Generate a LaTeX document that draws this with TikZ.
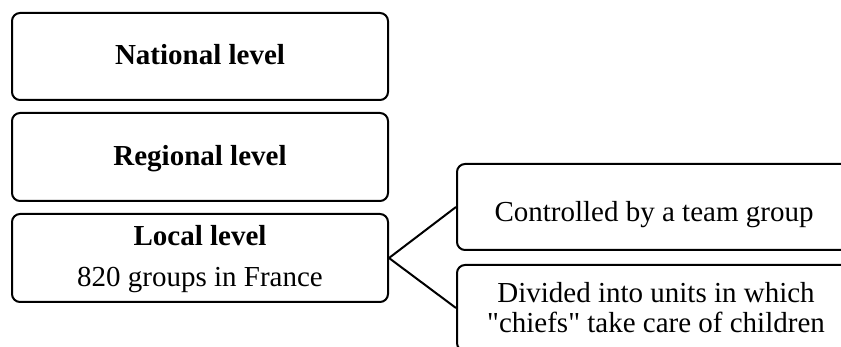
\documentclass[tikz,border=0pt]{standalone}
\usepackage{fontspec}
\setmainfont{Liberation Serif}[Ligatures=TeXOff]
\usetikzlibrary{calc}
\begin{document}
\begin{tikzpicture}[x=1pt,y=-1pt,
  box/.style={draw=black,line width=2pt,rounded corners=8pt,fill=white,inner sep=0pt},
  lbl/.style={anchor=base,inner sep=0pt,font=\fontsize{29}{33.5}\selectfont},
  blbl/.style={lbl,font=\fontsize{29}{33.5}\selectfont\bfseries},
  link/.style={draw=black,line width=2pt}]
\useasboundingbox (0,0) rectangle (841,347);
\begin{scope}
\clip (0,0) rectangle (841,347);
\node[box,minimum width=376pt,minimum height=87pt] (nat) at (200,56.5) {};
\node[box,minimum width=376pt,minimum height=88pt] (reg) at (200,157) {};
\node[box,minimum width=376pt,minimum height=88pt] (loc) at (200,258) {};
\node[box,minimum width=394pt,minimum height=86pt] (c1) at (654,207) {};
\node[box,minimum width=394pt,minimum height=86pt] (c2) at (654,308) {};
\node[blbl] (natt) at ($(nat.center)+(0,8.5)$) {National level};
\node[blbl] (regt) at ($(reg.center)+(0,9)$) {Regional level};
\node[blbl] (loct) at ($(loc.center)+(0,-12)$) {Local level};
\node[lbl] (loct2) at ($(loc.center)+(0,29)$) {820 groups in France};
\node[lbl] (c1t) at ($(c1.center)+(0,15)$) {Controlled by a team group};
\node[lbl] (c2t) at ($(c2.center)+(2,-5)$) {Divided into units in which};
\node[lbl] (c2t2) at ($(c2.center)+(2,25)$) {"chiefs" take care of children};
\draw[link] (c1.west) -- (loc.east) -- (c2.west);
\end{scope}
\end{tikzpicture}
\end{document}
